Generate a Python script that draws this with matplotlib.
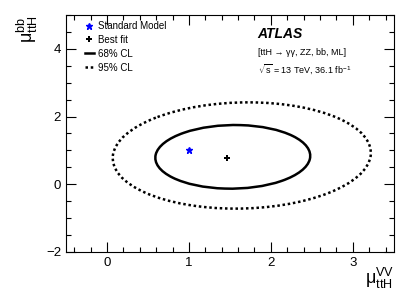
import numpy as np
import matplotlib.pyplot as plt
from matplotlib.patches import Ellipse
from matplotlib.lines import Line2D
from matplotlib.ticker import MultipleLocator

plt.rcParams['font.family'] = ['Liberation Sans', 'DejaVu Sans']
plt.rcParams['mathtext.fontset'] = 'custom'
plt.rcParams['mathtext.rm'] = 'Liberation Sans'
plt.rcParams['mathtext.it'] = 'Liberation Sans:italic'
plt.rcParams['mathtext.default'] = 'regular'

# points (mu_VV, mu_bb)
sm_point = [1.0, 1.0]
best_fit = [1.47, 0.79]

# contours: centre, half-width in x, half-width in y, correlation
cl_labels = ["68% CL", "95% CL"]
cl_centre = [[1.535, 0.81], [1.645, 0.85]]
cl_halfx = [0.945, 1.575]
cl_halfy = [0.94, 1.57]
cl_rho = [0.03, 0.05]
cl_style = ["-", (0, (1, 1.1))]

fig = plt.figure(figsize=(4.15, 3.01), dpi=100)
ax = fig.add_axes([0.159, 0.163, 0.790, 0.787])

for c, hx, hy, r, ls in zip(cl_centre, cl_halfx, cl_halfy, cl_rho, cl_style):
    cov = np.array([[hx**2, r*hx*hy], [r*hx*hy, hy**2]])
    vals, vecs = np.linalg.eigh(cov)
    ang = np.degrees(np.arctan2(vecs[1, 1], vecs[0, 1]))
    ell = Ellipse(c, 2*np.sqrt(vals[1]), 2*np.sqrt(vals[0]), angle=ang,
                  fill=False, edgecolor='black', lw=1.8, linestyle=ls)
    ax.add_patch(ell)

ax.plot(*sm_point, marker='*', color='blue', ms=4.5, ls='none')
ax.plot(*best_fit, marker='P', color='black', ms=5, mew=0, ls='none')

ax.set_xlim(-0.5, 3.5)
ax.set_ylim(-2, 5)
ax.xaxis.set_major_locator(MultipleLocator(1))
ax.xaxis.set_minor_locator(MultipleLocator(0.2))
ax.yaxis.set_major_locator(MultipleLocator(2))
ax.yaxis.set_minor_locator(MultipleLocator(0.5))
ax.tick_params(which='both', direction='in', top=True, right=True, labelsize=9.5)
ax.tick_params(which='major', length=7, width=0.8)
ax.tick_params(which='minor', length=3.5, width=0.8)
ax.set_yticks([-2, 0, 2, 4])
ax.set_yticklabels(['\u22122', '0', '2', '4'])

ax.set_xlabel(r'$\mu^{VV}_{ttH}$', loc='right', fontsize=13, labelpad=-2)
ax.set_ylabel(r'$\mu^{bb}_{ttH}$', loc='top', fontsize=13, labelpad=4)

handles = [
    Line2D([], [], marker='*', color='blue', ms=4.5, ls='none'),
    Line2D([], [], marker='P', color='black', ms=5, mew=0, ls='none'),
    Line2D([], [], color='black', lw=1.8),
    Line2D([], [], color='black', lw=1.8, ls=(0, (1, 1.1))),
]
ax.legend(handles, ["Standard Model", "Best fit"] + cl_labels,
          loc='upper left', bbox_to_anchor=(0.03, 1.012), frameon=False,
          fontsize=7, handlelength=1.0, handletextpad=0.35, labelspacing=0.4)

ax.text(0.585, 0.92, 'ATLAS', transform=ax.transAxes, fontsize=10,
        fontweight='bold', fontstyle='italic', va='center')
ax.text(0.585, 0.84, '[ttH \u2192 \u03b3\u03b3, ZZ, bb, ML]',
        transform=ax.transAxes, fontsize=6.5, va='center')
ax.text(0.585, 0.77, r'$\sqrt{s}$ = 13 TeV, 36.1 fb$^{-1}$',
        transform=ax.transAxes, fontsize=6.5, va='center')

fig.savefig('out.png', dpi=100)
